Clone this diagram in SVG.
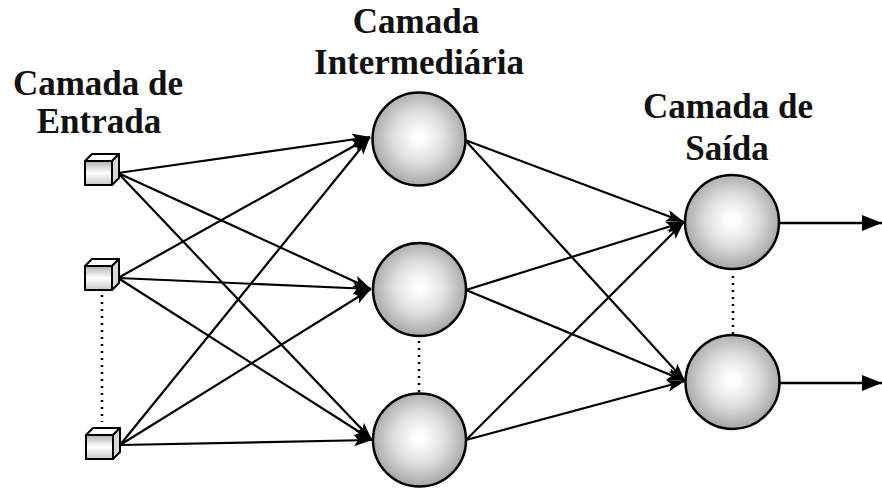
<svg xmlns="http://www.w3.org/2000/svg" width="882" height="491" viewBox="0 0 882 491">
<style>
.lbl{font-family:"Liberation Serif","DejaVu Serif","Times New Roman",serif;font-weight:bold;font-size:35px;fill:#111;text-anchor:middle}
.edge{stroke:#000;stroke-width:2.2;fill:none;marker-end:url(#ah)}
.out{stroke:#000;stroke-width:2.5;fill:none;marker-end:url(#ah2)}
.dot{stroke:#000;stroke-width:2.5;stroke-dasharray:2 5;fill:none}
.ball{fill:url(#rg);stroke:#000;stroke-width:2.5}
.front{fill:url(#lg);stroke:#000;stroke-width:2;stroke-linejoin:round}
.top{fill:#fff;stroke:#000;stroke-width:2;stroke-linejoin:round}
.side{fill:#d8d8d8;stroke:#000;stroke-width:2;stroke-linejoin:round}
</style>
<defs>
<radialGradient id="rg" cx="50%" cy="48%" r="52%">
<stop offset="0" stop-color="#ffffff"/>
<stop offset="0.15" stop-color="#fbfbfb"/>
<stop offset="0.55" stop-color="#dcdcdc"/>
<stop offset="1" stop-color="#a6a6a6"/>
</radialGradient>
<linearGradient id="lg" x1="0" y1="0" x2="0" y2="1">
<stop offset="0" stop-color="#b0b0b0"/>
<stop offset="0.5" stop-color="#ffffff"/>
<stop offset="1" stop-color="#c8c8c8"/>
</linearGradient>
<marker id="ah" markerUnits="userSpaceOnUse" markerWidth="20" markerHeight="14" refX="18" refY="6" orient="auto">
<path d="M0,0 L18,6 L0,12 L4,6 z" fill="#000"/>
</marker>
<marker id="ah2" markerUnits="userSpaceOnUse" markerWidth="22" markerHeight="18" refX="20" refY="8" orient="auto">
<path d="M0,0 L20,8 L0,16 z" fill="#000"/>
</marker>
</defs>
<rect width="882" height="491" fill="#fff"/>

<g id="labels">
<text class="lbl" x="98" y="95">Camada de</text>
<text class="lbl" x="99" y="133">Entrada</text>
<text class="lbl" x="416" y="33">Camada</text>
<text class="lbl" x="419" y="74">Intermediária</text>
<text class="lbl" x="728" y="118">Camada de</text>
<text class="lbl" x="727" y="160">Saída</text>
</g>

<g id="connectors">
<path class="edge" d="M118,173 L370,137"/>
<path class="edge" d="M118,173 L371,289"/>
<path class="edge" d="M118,173 L372,440"/>
<path class="edge" d="M118,278 L370,137"/>
<path class="edge" d="M118,278 L371,289"/>
<path class="edge" d="M118,278 L372,440"/>
<path class="edge" d="M120,445 L370,137"/>
<path class="edge" d="M120,445 L371,289"/>
<path class="edge" d="M120,445 L372,440"/>
<path class="edge" d="M465,140 L684,222"/>
<path class="edge" d="M465,140 L685,381"/>
<path class="edge" d="M466,290 L684,222"/>
<path class="edge" d="M466,290 L685,381"/>
<path class="edge" d="M466,440 L684,222"/>
<path class="edge" d="M466,440 L685,381"/>
<path class="out" d="M779,223 L882,223"/>
<path class="out" d="M779,383 L882,383"/>
<path class="dot" d="M102,295 L102,422"/>
<path class="dot" d="M419,341 L419,392"/>
<path class="dot" d="M733,276 L733,334"/>
</g>

<g id="in1">
<polygon class="top" points="85,161 92,154 119,154 112,161"/>
<polygon class="side" points="112,161 119,154 119,178 112,185"/>
<rect class="front" x="85" y="161" width="27" height="24"/>
</g>
<g id="in2">
<polygon class="top" points="85,266 92,259 119,259 112,266"/>
<polygon class="side" points="112,266 119,259 119,283 112,290"/>
<rect class="front" x="85" y="266" width="27" height="24"/>
</g>
<g id="in3">
<polygon class="top" points="86,435 93,428 120,428 113,435"/>
<polygon class="side" points="113,435 120,428 120,452 113,459"/>
<rect class="front" x="86" y="435" width="27" height="24"/>
</g>

<g id="h1"><circle class="ball" cx="419" cy="139" r="46.5"/></g>
<g id="h2"><circle class="ball" cx="419.5" cy="289.5" r="46.5"/></g>
<g id="h3"><circle class="ball" cx="419.5" cy="440" r="46.5"/></g>
<g id="o1"><circle class="ball" cx="732" cy="222" r="47"/></g>
<g id="o2"><circle class="ball" cx="732.5" cy="382" r="47"/></g>
</svg>
